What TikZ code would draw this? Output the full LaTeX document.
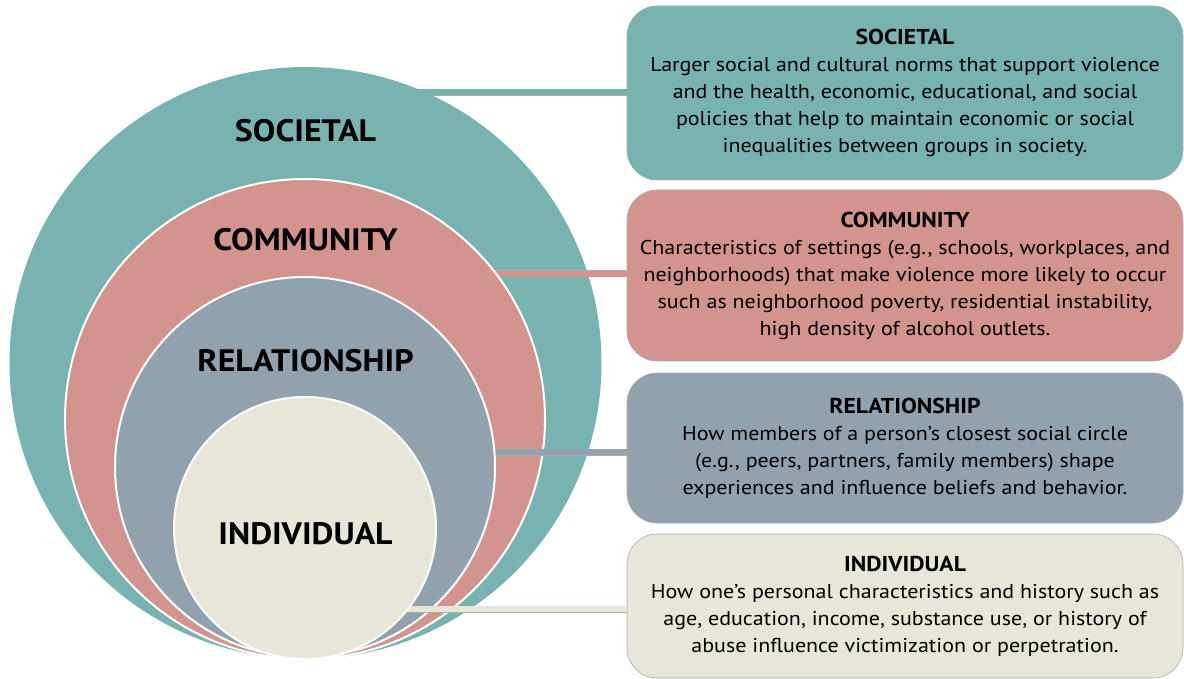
\documentclass[tikz,border=0pt]{standalone}
\usepackage{fontspec}
\setmainfont{PT Sans}[FakeStretch=1.1]
\newfontfamily\labelfont{PT Sans}[FakeStretch=1.09]
\usetikzlibrary{calc}
\definecolor{cTeal}{HTML}{78B3B2}
\definecolor{cPink}{HTML}{D4948E}
\definecolor{cBlue}{HTML}{91A1AE}
\definecolor{cCream}{HTML}{E8E6D8}
\definecolor{cEdge}{HTML}{A9ADAD}
\begin{document}
\begin{tikzpicture}[x=1pt,y=-1pt,
  ring/.style={circle, draw=white, line width=2pt, inner sep=0pt},
  biglabel/.style={font=\labelfont\fontsize{31}{31}\selectfont\bfseries},
  infobox/.style={rounded corners=30pt, draw=cEdge, line width=0.6pt, minimum width=556pt, inner sep=0pt, align=center, font=\fontsize{20}{27}\selectfont},
  conn/.style={draw=cEdge, line width=0.5pt, double distance=6pt}]
\useasboundingbox (0,0) rectangle (1184,679);
% boxes
\node[infobox, fill=cTeal, minimum height=174pt] (sbox) at (905,93) {{\bfseries\fontsize{21.5}{27}\selectfont SOCIETAL}\\Larger social and cultural norms that support violence\\and the health, economic, educational, and social\\policies that help to maintain economic or social\\inequalities between groups in society.};
\node[infobox, fill=cPink, minimum height=171pt] (cbox) at (905,275.5) {{\bfseries\fontsize{21.5}{27}\selectfont COMMUNITY}\\Characteristics of settings (e.g., schools, workplaces, and\\neighborhoods) that make violence more likely to occur\\such as neighborhood poverty, residential instability,\\high density of alcohol outlets.};
\node[infobox, fill=cBlue, minimum height=150pt] (rbox) at (905,448) {{\bfseries\fontsize{21.5}{27}\selectfont RELATIONSHIP}\\How members of a person’s closest social circle\\(e.g., peers, partners, family members) shape\\experiences and influence beliefs and behavior.};
\node[infobox, fill=cCream, minimum height=144pt] (ibox) at (905,606) {{\bfseries\fontsize{21.5}{27}\selectfont INDIVIDUAL}\\How one’s personal characteristics and history such as\\age, education, income, substance use, or history of\\abuse influence victimization or perpetration.};
% centres
\coordinate (cS) at (305.5,363);
\coordinate (cC) at (305,419);
\coordinate (cR) at (305,467);
\coordinate (cI) at (305,528);
% rings and connectors
\draw[conn, double=cTeal] ($(sbox.west)+(0,-0.5)$) -- ($(sbox.west -| cS)+(0,-0.5)$);
\node[ring, fill=cTeal, minimum size=592pt, draw=none] (soc) at (cS) {};
\draw[conn, double=cPink] ($(cbox.west)+(0,-1.5)$) -- ($(cbox.west -| cC)+(0,-1.5)$);
\node[ring, fill=cPink, minimum size=480pt] (com) at (cC) {};
\draw[conn, double=cBlue] ($(rbox.west)+(0,4)$) -- ($(rbox.west -| cR)+(0,4)$);
\node[ring, fill=cBlue, minimum size=380pt] (rel) at (cR) {};
\draw[conn, double=cCream] ($(ibox.west)+(0,3)$) -- ($(ibox.west -| cI)+(0,3)$);
\node[ring, fill=cCream, minimum size=262pt] (ind) at (cI) {};
% labels
\node[biglabel] (lS) at (305.5,131) {SOCIETAL};
\node[biglabel] (lC) at (305.5,240) {COMMUNITY};
\node[biglabel] (lR) at (305.5,361) {RELATIONSHIP};
\node[biglabel] (lI) at (305.5,534) {INDIVIDUAL};
\end{tikzpicture}
\end{document}
